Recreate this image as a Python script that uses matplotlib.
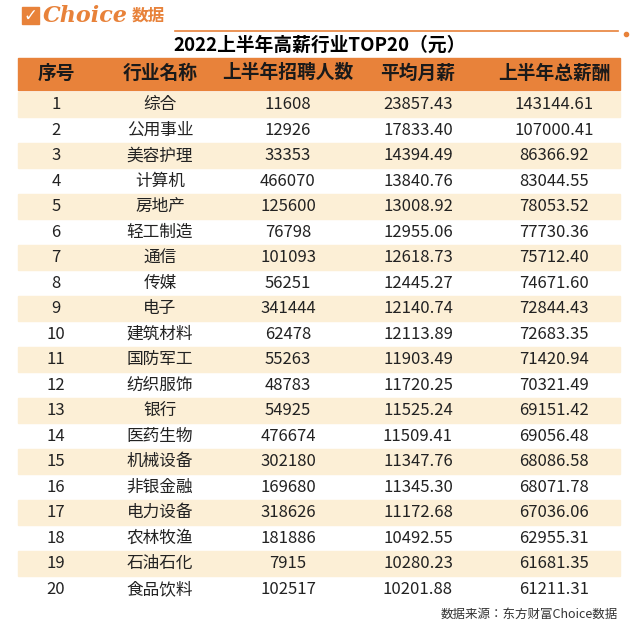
import matplotlib
matplotlib.use("Agg")
import matplotlib.pyplot as plt
from matplotlib.patches import Rectangle
from matplotlib import font_manager as fm

files = [f for f in fm.findSystemFonts() if "CJK" in f and "Serif" not in f]
cjk = next((f for f in files if "Regular" in f), files[0] if files else None)
cjk_bold = next((f for f in files if "Bold" in f), None)
fp = fm.FontProperties(fname=cjk) if cjk else fm.FontProperties(family="Noto Sans CJK SC")
fpb = fm.FontProperties(fname=cjk_bold) if cjk_bold else fm.FontProperties(family="Noto Sans CJK SC", weight="bold")

title = "2022上半年高薪行业TOP20（元）"
headers = ["序号", "行业名称", "上半年招聘人数", "平均月薪", "上半年总薪酬"]
ranks = list(range(1, 21))
industries = ["综合", "公用事业", "美容护理", "计算机", "房地产", "轻工制造", "通信", "传媒", "电子", "建筑材料",
              "国防军工", "纺织服饰", "银行", "医药生物", "机械设备", "非银金融", "电力设备", "农林牧渔", "石油石化", "食品饮料"]
hires = [11608, 12926, 33353, 466070, 125600, 76798, 101093, 56251, 341444, 62478,
         55263, 48783, 54925, 476674, 302180, 169680, 318626, 181886, 7915, 102517]
monthly = [23857.43, 17833.40, 14394.49, 13840.76, 13008.92, 12955.06, 12618.73, 12445.27, 12140.74, 12113.89,
           11903.49, 11720.25, 11525.24, 11509.41, 11347.76, 11345.30, 11172.68, 10492.55, 10280.23, 10201.88]
total = [143144.61, 107000.41, 86366.92, 83044.55, 78053.52, 77730.36, 75712.40, 74671.60, 72844.43, 72683.35,
         71420.94, 70321.49, 69151.42, 69056.48, 68086.58, 68071.78, 67036.06, 62955.31, 61681.35, 61211.31]

fig = plt.figure(figsize=(6.4, 6.3), dpi=100)
ax = fig.add_axes([0, 0, 1, 1])
ax.set_xlim(0, 640); ax.set_ylim(630, 0); ax.axis("off")

orange = "#E8823A"
ax.add_patch(Rectangle((22, 7), 17, 17, color=orange))
ax.text(30.5, 15.5, "✓", color="white", fontsize=12, ha="center", va="center", fontweight="bold", family="DejaVu Sans")
ax.text(43, 16, "Choice", color=orange, fontsize=16, fontweight="bold", style="italic", va="center", family="DejaVu Serif")
fpl = fpb.copy(); fpl.set_size(12)
ax.text(132, 16, "数据", color=orange, va="center", fontproperties=fpl)
ax.plot([175, 618], [31, 31], color=orange, lw=1.2)
ax.plot([626], [34], "o", color=orange, ms=3)

fpt = fpb.copy(); fpt.set_size(13.5)
ax.text(320, 45, title, ha="center", va="center", fontproperties=fpt)
ax.add_patch(Rectangle((18, 58), 602, 32, color=orange))
cx = [56, 160, 288, 418, 554]
fph = fpb.copy(); fph.set_size(13.5)
for x, h in zip(cx, headers):
    ax.text(x, 73, h, ha="center", va="center", color="#1a1a1a", fontproperties=fph)

fpc = fp.copy(); fpc.set_size(12)
top, rh = 92, 25.5
for i in range(20):
    y0 = top + i * rh
    if i % 2 == 0:
        ax.add_patch(Rectangle((18, y0), 602, rh - 1, color="#FCEFD6"))
    yc = y0 + rh / 2
    vals = [str(ranks[i]), industries[i], str(hires[i]), f"{monthly[i]:.2f}", f"{total[i]:.2f}"]
    for x, v in zip(cx, vals):
        ax.text(x, yc, v, ha="center", va="center", color="#222222", fontproperties=fpc)

fps = fp.copy(); fps.set_size(9)
ax.text(618, 614, "数据来源：东方财富Choice数据", ha="right", va="center", color="#333333", fontproperties=fps)
fig.savefig("out.png", dpi=100)
